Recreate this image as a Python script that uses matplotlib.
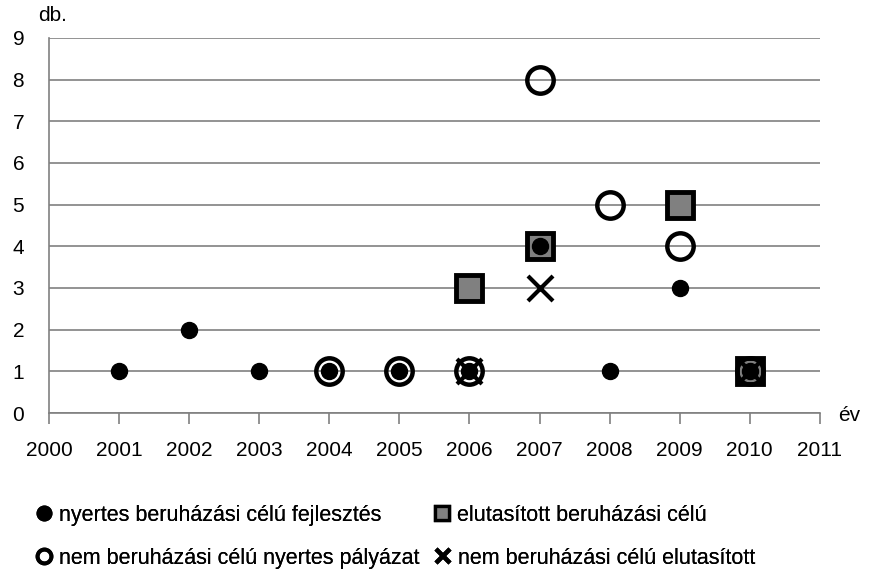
import matplotlib
matplotlib.use('Agg')
import matplotlib.pyplot as plt
from matplotlib.lines import Line2D

plt.rcParams['font.family'] = ['Liberation Sans', 'DejaVu Sans']

# nyertes beruházási célú fejlesztés
win_inv_x = [2001, 2002, 2003, 2004, 2005, 2006, 2007, 2008, 2009, 2010]
win_inv_y = [1, 2, 1, 1, 1, 1, 4, 1, 3, 1]
# elutasított beruházási célú
rej_inv_x = [2006, 2007, 2009, 2010]
rej_inv_y = [3, 4, 5, 1]
# nem beruházási célú nyertes pályázat
win_non_x = [2004, 2005, 2006, 2007, 2008, 2009, 2010]
win_non_y = [1, 1, 1, 8, 5, 4, 1]
# nem beruházási célú elutasított
rej_non_x = [2006, 2007, 2010]
rej_non_y = [1, 3, 1]

labels = ['nyertes beruházási célú fejlesztés',
          'elutasított beruházási célú',
          'nem beruházási célú nyertes pályázat',
          'nem beruházási célú elutasított']

years = list(range(2000, 2012))
yticks = list(range(0, 10))

fig = plt.figure(figsize=(8.7, 5.71), dpi=100)
ax = fig.add_axes([0.0563, 0.2767, 0.886, 0.6568])

ax.set_xlim(2000, 2011)
ax.set_ylim(0, 9)
ax.set_xticks(years)
ax.set_yticks(yticks)
ax.tick_params(axis='x', direction='out', length=8, width=1.2, color='#808080',
               labelsize=15, pad=12)
ax.tick_params(axis='y', length=0, labelsize=15, pad=22)
for t in ax.get_yticklabels():
    t.set_horizontalalignment('center')
ax.grid(axis='y', color='#808080', linewidth=1.2)
ax.set_axisbelow(True)
for s in ['top', 'right']:
    ax.spines[s].set_visible(False)
for s in ['left', 'bottom']:
    ax.spines[s].set_color('#808080')
    ax.spines[s].set_linewidth(1.2)

ax.plot(rej_inv_x, rej_inv_y, 's', ms=19, mfc='#808080', mec='black',
        mew=3.5, ls='none')
ax.plot(win_non_x, win_non_y, 'o', ms=19, mfc='none', mec='black',
        mew=3.2, ls='none')
ax.plot(rej_non_x, rej_non_y, 'x', ms=18, mec='black', mew=3, ls='none')
ax.plot(win_inv_x, win_inv_y, 'o', ms=11.5, mfc='black', mec='black',
        ls='none')

fig.text(0.044, 0.973, 'db.', fontsize=15, va='center')
fig.text(0.963, 0.272, 'év', fontsize=15, va='center')

# legend entries, one per item
handles = [
    Line2D([], [], marker='o', ms=10.5, mfc='black', mec='black', ls='none'),
    Line2D([], [], marker='s', ms=10, mfc='#808080', mec='black', mew=2.4, ls='none'),
    Line2D([], [], marker='o', ms=10, mfc='none', mec='black', mew=2.8, ls='none'),
    Line2D([], [], marker='x', ms=10, mec='black', mew=3.2, ls='none'),
]
anchors = [(0.042, 0.098), (0.499, 0.098), (0.042, 0.022), (0.501, 0.022)]
for h, lab, anc in zip(handles, labels, anchors):
    leg = fig.legend(handles=[h], labels=[lab], loc='center left',
                     bbox_to_anchor=anc, frameon=False, fontsize=15.5,
                     handlelength=0.7, handletextpad=0.35, borderpad=0,
                     borderaxespad=0)
    fig.add_artist(leg)

fig.savefig('out.png', dpi=100)
